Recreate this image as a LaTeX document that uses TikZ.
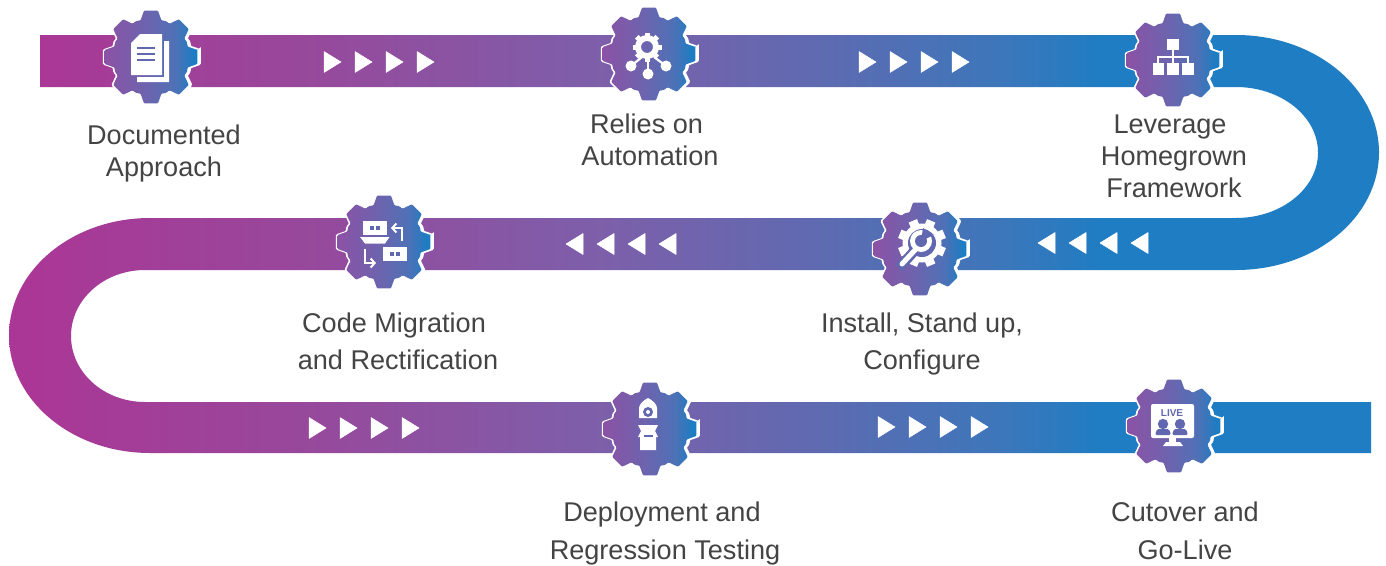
\documentclass[tikz,border=0pt]{standalone}
\usepackage{fontspec}
\setmainfont{Liberation Sans}
\usetikzlibrary{arrows.meta}
\definecolor{labeltext}{RGB}{68,68,68}
\definecolor{iconhole}{RGB}{98,104,176}
\definecolor{bandA}{RGB}{170,55,150}
\definecolor{bandB}{RGB}{152,72,155}
\definecolor{bandC}{RGB}{125,95,170}
\definecolor{bandD}{RGB}{98,105,176}
\definecolor{bandE}{RGB}{62,118,186}
\definecolor{bandF}{RGB}{30,125,195}
\definecolor{gearA}{RGB}{140,82,165}
\definecolor{gearB}{RGB}{108,100,174}
\definecolor{gearC}{RGB}{78,113,182}
\definecolor{gearD}{RGB}{28,125,195}
\pgfdeclarehorizontalshading{bandsh}{100bp}{
  color(0bp)=(bandA); color(26bp)=(bandA); color(35.6bp)=(bandB);
  color(46.6bp)=(bandC); color(53.8bp)=(bandD); color(61bp)=(bandE);
  color(65bp)=(bandF); color(100bp)=(bandF)}
\pgfdeclarehorizontalshading{gearsh}{100bp}{
  color(0bp)=(gearA); color(25bp)=(gearA); color(48bp)=(gearB);
  color(63bp)=(gearC); color(73bp)=(gearD); color(100bp)=(gearD)}
\newcommand{\gearoutline}{(-8.5:47) \foreach \a in {0,45,...,315}{
   -- (\a-8.5:47) -- (\a+8.5:47) -- (\a+16:38) -- (\a+22.5:39) -- (\a+29:38)} -- cycle}
\newcommand{\gearat}[2]{%
  \begin{scope}[shift={(#1+2.5,#2)}]
    \path[fill=white,draw=white,line width=2pt,rounded corners=1pt] \gearoutline;
  \end{scope}
  \begin{scope}[shift={(#1-1,#2)}]
    \path[fill=white,draw=white,line width=1.5pt,rounded corners=1pt] \gearoutline;
  \end{scope}
  \begin{scope}[shift={(#1,#2)}]
    \path[shading=gearsh,rounded corners=1pt] \gearoutline;
  \end{scope}}
\newcommand{\chevsR}[3]{\foreach \k in {0,1,2,3}{
  \path[chevron] (#1+\k*#3,#2-10.5) -- (#1+\k*#3+17,#2) -- (#1+\k*#3,#2+10.5) -- cycle;}}
\newcommand{\chevsL}[3]{\foreach \k in {0,1,2,3}{
  \path[chevron] (#1+\k*#3+17,#2-10.5) -- (#1+\k*#3,#2) -- (#1+\k*#3+17,#2+10.5) -- cycle;}}
\tikzset{
  chevron/.style={fill=white,draw=white,line width=0.5pt,line join=round},
  label/.style={font=\fontsize{27.1}{32}\selectfont,text=labeltext,align=center,inner sep=0pt},
  icoline/.style={draw=white,line width=2.2pt},
  arr/.style={draw=white,line width=2.4pt,-{Straight Barb[length=4pt,width=9pt,line width=2pt]}}
}
\begin{document}
\begin{tikzpicture}[x=1pt,y=-1pt]
\useasboundingbox (0,0) rectangle (1386,565);
\fill[white] (0,0) rectangle (1386,565);
% ribbon
\path[shading=bandsh]
 (40,35) -- (1236,35)
 .. controls (1315,35) and (1379,87.6) .. (1379,152.5)
 .. controls (1379,217.4) and (1315,270) .. (1236,270)
 -- (145,270)
 .. controls (104,270) and (71,299.5) .. (71,336)
 .. controls (71,372.5) and (104,402) .. (145,402)
 -- (1371,402) -- (1371,453) -- (150,453)
 .. controls (72,453) and (9,400.4) .. (9,335.5)
 .. controls (9,270.6) and (72,218) .. (150,218)
 -- (1236,218)
 .. controls (1281,218) and (1318,188.7) .. (1318,152.5)
 .. controls (1318,116.3) and (1281,87) .. (1236,87)
 -- (40,87) -- cycle;
% chevrons
\chevsR{324}{62}{31}
\chevsR{859}{62}{31}
\chevsL{566}{244}{31}
\chevsL{1038}{243}{31}
\chevsR{309}{428}{31}
\chevsR{878}{427}{31}
% gears
\gearat{151}{57}
\gearat{649}{54}
\gearat{1173}{60}
\gearat{920}{249}
\gearat{384}{242}
\gearat{650}{429}
\gearat{1174}{426}
% icon 1: documents
\begin{scope}[shift={(151,57)}]
  \fill[white] (13,-16) -- (18,-16) -- (18,25) -- (-14,25) -- (-14,20) -- (13,20) -- cycle;
  \fill[white] (-11,-23) -- (11,-23) -- (11,18) -- (-20,18) -- (-20,-14) -- cycle;
  \draw[iconhole,line width=1.7pt] (-14,-9) -- (4,-9) (-14,-3) -- (4,-3) (-14,3) -- (4,3);
\end{scope}
% icon 2: automation
\begin{scope}[shift={(647,47)}]
  \foreach \a in {0,45,...,315}{\draw[white,line width=5pt] (\a:9) -- (\a:14.5);}
  \path[fill=white,even odd rule] (0,0) circle[radius=12] (0,0) circle[radius=6];
  \draw[icoline] (-5,10) -- (-16,19);
  \draw[icoline] (7,10) -- (19,19);
  \draw[icoline] (1,11) -- (1,27);
  \fill[white] (-16,19) circle[radius=5.5];
  \fill[white] (1,27) circle[radius=5.5];
  \fill[white] (19,19) circle[radius=5.5];
\end{scope}
% icon 3: hierarchy
\begin{scope}[shift={(1173,60)}]
  \fill[white] (-6,-21.5) rectangle (5.5,-10);
  \fill[white] (-20.5,3) rectangle (-9,14.5);
  \fill[white] (-6,3) rectangle (5.5,14.5);
  \fill[white] (9,3) rectangle (20.5,14.5);
  \draw[white,line width=1.6pt] (-0.25,-10) -- (-0.25,3);
  \draw[white,line width=1.6pt] (-14.75,3) -- (-14.75,-3) -- (14.75,-3) -- (14.75,3);
\end{scope}
% icon 4: wrench in gear
\begin{scope}[shift={(922,243)}]
  \foreach \a in {0,45,...,315}{\draw[white,line width=9pt] ({\a+22.5}:17) -- ({\a+22.5}:24);}
  \fill[white] (0,0) circle[radius=19.5];
  \fill[iconhole] (0,0) circle[radius=14];
  \draw[iconhole,line width=10pt] (-5,5) -- (-23,25);
  \draw[white,line width=5pt,line cap=round] (-7,7) -- (-20,21);
  \fill[white] (-1,-2) circle[radius=11];
  \fill[iconhole] (-1,-2) circle[radius=6];
  \fill[iconhole] (-1,-2) -- (1,-15) -- (12,-8) -- cycle;
\end{scope}
% icon 5: code migration
\fill[white] (363,221) rectangle (387,234.5);
\fill[white] (360,237) -- (389.5,237) -- (385,243.5) -- (365,243.5) -- cycle;
\fill[iconhole] (370,226) rectangle (373.5,229.5);
\fill[iconhole] (376,226) rectangle (379.5,229.5);
\fill[white] (383,247) rectangle (407,261);
\fill[iconhole] (390,252) rectangle (393.5,255.5);
\fill[iconhole] (396,252) rectangle (399.5,255.5);
\draw[arr] (402,241) -- (402,228) -- (391,228);
\draw[arr] (365,249) -- (365,263) -- (376,263);
% icon 6: rocket
\fill[white] (648,398) .. controls (652,400) and (657,404) .. (657,408) -- (657,418) -- (639,418) -- (639,408) .. controls (639,404) and (644,400) .. (648,398) -- cycle;
\fill[iconhole] (648,412) circle[radius=5];
\fill[white] (648,412) circle[radius=2];
\fill[white] (638,425) -- (658,425) -- (655,431) -- (658,437) -- (656,437) -- (656,450) -- (640,450) -- (640,437) -- (638,437) -- (641,431) -- cycle;
\draw[iconhole,line width=1.5pt] (644,436) -- (653,436);
% icon 7: live monitor
\fill[white,rounded corners=2pt] (1151,404) rectangle (1194,438);
\node[font=\fontsize{10}{10}\selectfont\bfseries,text=iconhole,inner sep=0pt] (livetext) at (1172,413) {LIVE};
\fill[iconhole] (1163,424) circle[radius=5.2];
\fill[iconhole] (1180,424) circle[radius=5.2];
\fill[iconhole,rounded corners=1.5pt] (1155,435) -- (1157,429) -- (1169,429) -- (1171,435) -- cycle;
\fill[iconhole,rounded corners=1.5pt] (1172,435) -- (1174,429) -- (1186,429) -- (1188,435) -- cycle;
\fill[white] (1169,438) rectangle (1176,443);
\fill[white] (1163,446) -- (1166,442) -- (1180,442) -- (1183,446) -- cycle;
% labels
\node[label] (l1) at (164,153) {Documented\\Approach};
\node[label] (l2) at (650,140) {Relies on\hspace*{7pt}\\Automation};
\node[label] (l3) at (1174,156) {Leverage\hspace*{8pt}\\Homegrown\\Framework};
\node[label] (l4) at (922,344) {Install, Stand up,\\[5pt]Configure};
\node[label] (l5) at (398,341) {Code Migration\hspace*{8pt}\\[5pt]and Rectification};
\node[label] (l6) at (665,533) {Deployment and\hspace*{6pt}\\[6pt]Regression Testing};
\node[label] (l7) at (1185,531) {Cutover and\\[6pt]Go-Live};
\end{tikzpicture}
\end{document}
